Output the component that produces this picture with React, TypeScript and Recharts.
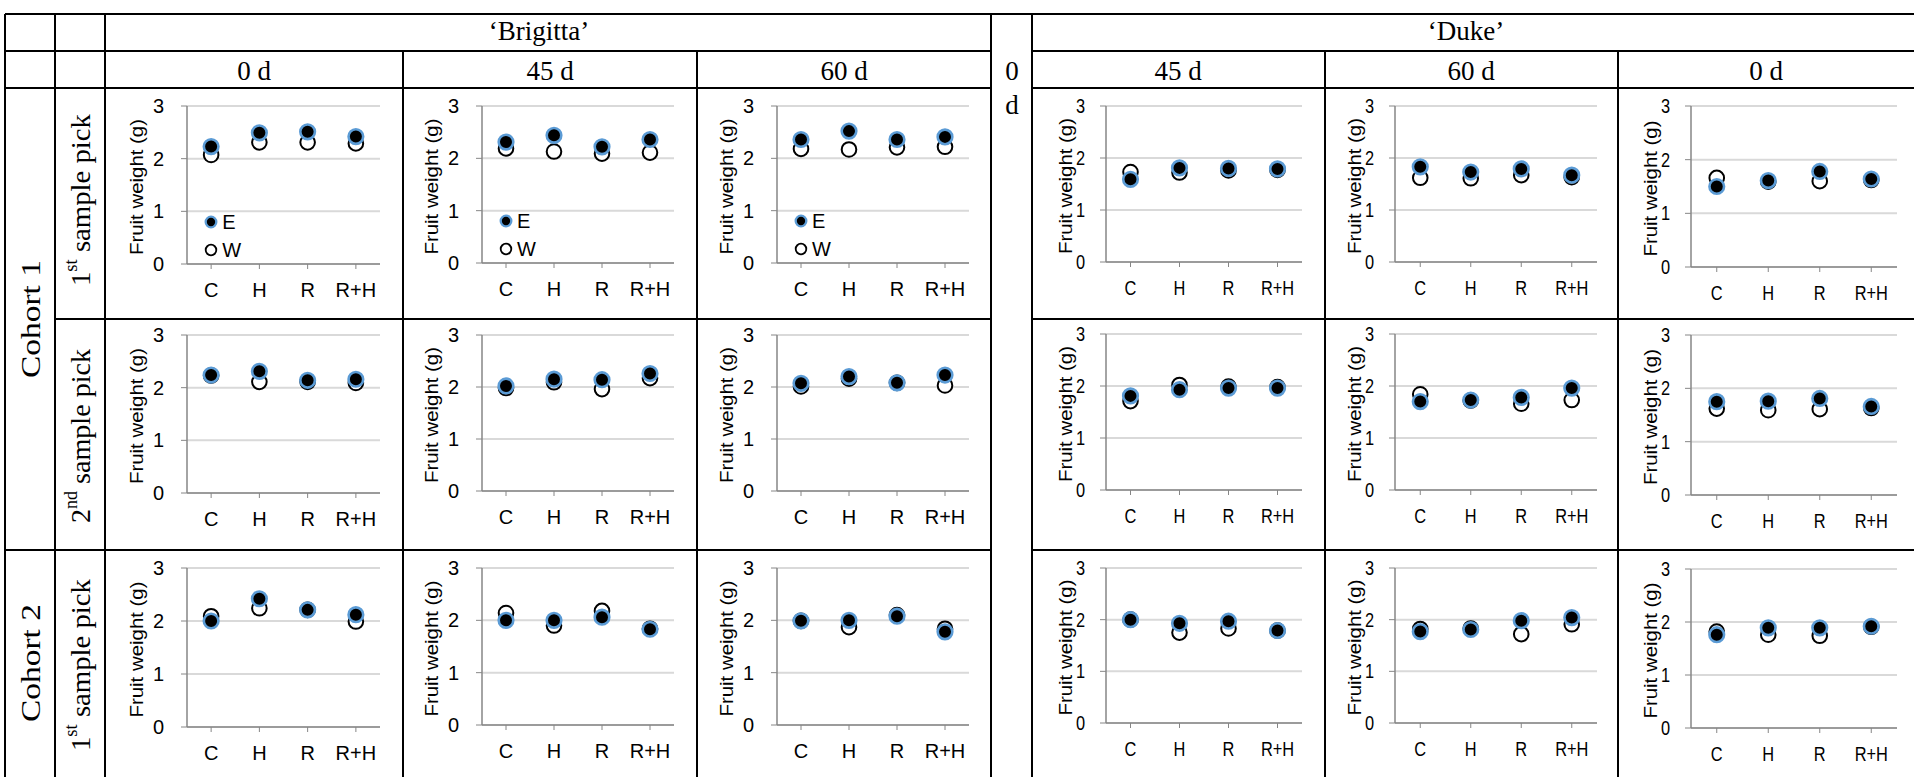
import React from "react";
import { ComposedChart, Line, XAxis, YAxis, CartesianGrid, Legend } from "recharts";

const SANS = "'Liberation Sans', Arial, sans-serif";
const SERIF = "'Liberation Serif', 'Times New Roman', serif";

const categories = ["C", "H", "R", "R+H"];
const yTicks = [0, 1, 2, 3];
const varieties = ["\u2018Brigitta\u2019", "\u2018Duke\u2019"];
const storageBrigitta = ["0 d", "45 d", "60 d"];
const storageDuke = ["45 d", "60 d", "0 d"];

// Cohort 1, 1st sample pick
const b11_0_E = [2.23, 2.49, 2.51, 2.42];
const b11_0_W = [2.07, 2.31, 2.31, 2.29];
const b11_45_E = [2.31, 2.44, 2.22, 2.36];
const b11_45_W = [2.19, 2.13, 2.09, 2.11];
const b11_60_E = [2.36, 2.52, 2.36, 2.41];
const b11_60_W = [2.18, 2.17, 2.21, 2.22];
const d11_45_E = [1.59, 1.81, 1.8, 1.79];
const d11_45_W = [1.73, 1.72, 1.76, 1.77];
const d11_60_E = [1.83, 1.73, 1.79, 1.67];
const d11_60_W = [1.62, 1.61, 1.67, 1.63];
const d11_0_E = [1.5, 1.61, 1.78, 1.64];
const d11_0_W = [1.66, 1.59, 1.6, 1.62];

// Cohort 1, 2nd sample pick
const b12_0_E = [2.24, 2.31, 2.14, 2.16];
const b12_0_W = [2.23, 2.11, 2.11, 2.09];
const b12_45_E = [2.02, 2.15, 2.14, 2.26];
const b12_45_W = [1.98, 2.09, 1.96, 2.17];
const b12_60_E = [2.07, 2.2, 2.08, 2.23];
const b12_60_W = [2.01, 2.16, 2.08, 2.03];
const d12_45_E = [1.81, 1.93, 1.96, 1.96];
const d12_45_W = [1.71, 2.02, 1.99, 1.98];
const d12_60_E = [1.7, 1.73, 1.78, 1.96];
const d12_60_W = [1.84, 1.72, 1.66, 1.73];
const d12_0_E = [1.75, 1.76, 1.81, 1.66];
const d12_0_W = [1.62, 1.59, 1.61, 1.63];

// Cohort 2, 1st sample pick
const b21_0_E = [2.0, 2.42, 2.21, 2.12];
const b21_0_W = [2.09, 2.24, 2.21, 1.99];
const b21_45_E = [2.0, 2.0, 2.06, 1.83];
const b21_45_W = [2.14, 1.9, 2.18, 1.84];
const b21_60_E = [1.99, 2.0, 2.08, 1.78];
const b21_60_W = [1.99, 1.87, 2.1, 1.84];
const d21_45_E = [2.0, 1.93, 1.97, 1.79];
const d21_45_W = [2.0, 1.75, 1.83, 1.79];
const d21_60_E = [1.77, 1.81, 1.98, 2.04];
const d21_60_W = [1.82, 1.83, 1.72, 1.91];
const d21_0_E = [1.76, 1.89, 1.89, 1.92];
const d21_0_W = [1.82, 1.76, 1.74, 1.91];

// plot placement: [axis x, right edge]
const cols = [
  [187, 380],
  [482, 674],
  [777, 969],
  [1106, 1302],
  [1395, 1597],
  [1691, 1897],
];
// [y of 3, y of 0] per row and column
const rowsY = [
  [[106, 264], [106, 263], [106, 263], [106, 262], [106, 262], [106, 267]],
  [[335, 493], [335, 491], [335, 491], [334, 490], [334, 490], [335, 495]],
  [[568, 727], [568, 725], [568, 725], [568, 723], [568, 723], [569, 728]],
];

const series = [
  [[b11_0_E, b11_0_W], [b11_45_E, b11_45_W], [b11_60_E, b11_60_W], [d11_45_E, d11_45_W], [d11_60_E, d11_60_W], [d11_0_E, d11_0_W]],
  [[b12_0_E, b12_0_W], [b12_45_E, b12_45_W], [b12_60_E, b12_60_W], [d12_45_E, d12_45_W], [d12_60_E, d12_60_W], [d12_0_E, d12_0_W]],
  [[b21_0_E, b21_0_W], [b21_45_E, b21_45_W], [b21_60_E, b21_60_W], [d21_45_E, d21_45_W], [d21_60_E, d21_60_W], [d21_0_E, d21_0_W]],
];

const FS = 20;

const LegendBox = () => (
  <div style={{ fontFamily: SANS, fontSize: FS, color: "#000", lineHeight: "28px" }}>
    <div style={{ display: "flex", alignItems: "center", height: 28 }}>
      <svg width={14} height={14}>
        <circle cx={7} cy={7} r={5.3} fill="#000" stroke="#5b9bd5" strokeWidth={2.3} />
      </svg>
      <span style={{ marginLeft: 4 }}>E</span>
    </div>
    <div style={{ display: "flex", alignItems: "center", height: 28 }}>
      <svg width={14} height={14}>
        <circle cx={7} cy={7} r={5.3} fill="#fff" stroke="#000" strokeWidth={1.8} />
      </svg>
      <span style={{ marginLeft: 4 }}>W</span>
    </div>
  </div>
);

// tick label drawn at a given centre, squeezed sideways for the Duke panels
const tickText = (x: number, y: number, value: string | number, anchor: string, sx: number) => (
  <g transform={`translate(${x} ${y}) scale(${sx} 1)`}>
    <text
      x={0}
      y={0}
      textAnchor={anchor}
      dominantBaseline="central"
      fontFamily={SANS}
      fontSize={FS}
      fill="#000"
    >
      {value}
    </text>
  </g>
);

function Panel({ row, col }: { row: number; col: number }) {
  const [axisX, right] = cols[col];
  const [y3, y0] = rowsY[row][col];
  const [E, W] = series[row][col];
  const duke = col >= 3;
  const sx = duke ? 0.82 : 1;
  const padL = 70;
  const padT = 12;
  const padR = 30;
  const xH = 46;
  const plotH = y0 - y3;
  const plotW = right - axisX;
  const band = plotW / 8;
  const data = categories.map((c, i) => ({ cat: c, E: E[i], W: W[i] }));
  const yOf = (v: number) => padT + ((3 - v) * plotH) / 3;
  const titleX = padL - (duke ? 41 : 50);
  const titleY = padT + plotH / 2 + 2;

  return (
    <div style={{ position: "absolute", left: axisX - padL, top: y3 - padT }}>
      <ComposedChart
        width={plotW + padL + padR}
        height={plotH + padT + xH}
        data={data}
        margin={{ top: padT, right: padR, left: 0, bottom: 0 }}
      >
        <CartesianGrid vertical={false} stroke="#d9d9d9" strokeWidth={2} />
        <XAxis
          dataKey="cat"
          type="category"
          interval={0}
          height={xH}
          padding={{ left: band, right: band }}
          axisLine={{ stroke: "#868686", strokeWidth: 1.5 }}
          tickLine={{ stroke: "#868686" }}
          tickSize={5}
          tickMargin={0}
          tick={(p: any) => tickText(p.x, p.y + 21, p.payload.value, "middle", sx)}
        />
        <YAxis
          type="number"
          domain={[0, 3]}
          ticks={yTicks}
          interval={0}
          width={padL}
          axisLine={{ stroke: "#868686", strokeWidth: 1.5 }}
          tickLine={{ stroke: "#868686" }}
          tickSize={6}
          tickMargin={0}
          tick={(p: any) => tickText(p.x - (duke ? 15 : 17), p.y, p.payload.value, "end", sx)}
          label={() => (
            <text
              x={titleX}
              y={titleY}
              transform={`rotate(-90 ${titleX} ${titleY})`}
              textAnchor="middle"
              dominantBaseline="central"
              fontFamily={SANS}
              fontSize={duke ? 19 : 18}
              fill="#000"
              textLength={136}
              lengthAdjust="spacingAndGlyphs"
            >
              Fruit weight (g)
            </text>
          )}
        />
        {row === 0 && !duke && (
          <Legend
            layout="horizontal"
            verticalAlign="middle"
            align="center"
            wrapperStyle={{ left: padL + band - 7, top: yOf(0.8) - 14, width: "auto" }}
            content={<LegendBox />}
          />
        )}
        <Line
          dataKey="W"
          name="W"
          stroke="none"
          isAnimationActive={false}
          activeDot={false}
          dot={{ r: 7.3, fill: "#fff", stroke: "#000", strokeWidth: 2 }}
        />
        <Line
          dataKey="E"
          name="E"
          stroke="none"
          isAnimationActive={false}
          activeDot={false}
          dot={{ r: 7.3, fill: "#000", stroke: "#5b9bd5", strokeWidth: 2.6 }}
        />
      </ComposedChart>
    </div>
  );
}

function Table() {
  const ln = { stroke: "#000", strokeWidth: 2 };
  const hLines: [number, number, number][] = [
    [14, 5, 1914],
    [51, 5, 991],
    [51, 1032, 1914],
    [88, 5, 991],
    [88, 1032, 1914],
    [319, 55, 991],
    [319, 1032, 1914],
    [550, 5, 991],
    [550, 1032, 1914],
  ];
  const vLines: [number, number, number][] = [
    [5, 14, 777],
    [55, 14, 777],
    [105, 14, 777],
    [403, 51, 777],
    [697, 51, 777],
    [991, 14, 777],
    [1032, 14, 777],
    [1325, 51, 777],
    [1618, 51, 777],
  ];
  const subX = [254, 550, 844, 1178, 1471, 1766];
  const subs = [...storageBrigitta, ...storageDuke];
  const rotated = (x: number, y: number, len: number, children: React.ReactNode, key: string) => (
    <text
      key={key}
      x={x}
      y={y}
      transform={`rotate(-90 ${x} ${y})`}
      textAnchor="middle"
      dominantBaseline="central"
      fontFamily={SERIF}
      fontSize={28}
      textLength={len}
      lengthAdjust="spacingAndGlyphs"
    >
      {children}
    </text>
  );
  return (
    <svg width={1914} height={777} style={{ position: "absolute", left: 0, top: 0 }}>
      {hLines.map(([y, a, b], i) => (
        <line key={"h" + i} x1={a} x2={b} y1={y} y2={y} {...ln} />
      ))}
      {vLines.map(([x, a, b], i) => (
        <line key={"v" + i} x1={x} x2={x} y1={a} y2={b} {...ln} />
      ))}
      <g fontFamily={SERIF} fontSize={27} textAnchor="middle" dominantBaseline="central" fill="#000">
        <text x={539} y={31}>{varieties[0]}</text>
        <text x={1466} y={31}>{varieties[1]}</text>
        {subs.map((s, i) => (
          <text key={s + i} x={subX[i]} y={71}>
            {s}
          </text>
        ))}
        <text x={1012} y={71}>0</text>
        <text x={1012} y={105}>d</text>
      </g>
      {rotated(30, 319, 118, "Cohort 1", "c1")}
      {rotated(30, 663, 118, "Cohort 2", "c2")}
      {rotated(
        80,
        200,
        172,
        <>
          1<tspan fontSize={18} dy={-9}>st</tspan>
          <tspan dy={9}> sample pick</tspan>
        </>,
        "p1"
      )}
      {rotated(
        80,
        436,
        174,
        <>
          2<tspan fontSize={18} dy={-9}>nd</tspan>
          <tspan dy={9}> sample pick</tspan>
        </>,
        "p2"
      )}
      {rotated(
        80,
        665,
        172,
        <>
          1<tspan fontSize={18} dy={-9}>st</tspan>
          <tspan dy={9}> sample pick</tspan>
        </>,
        "p3"
      )}
    </svg>
  );
}

export default function App() {
  const panels = [];
  for (let r = 0; r < 3; r++) {
    for (let c = 0; c < 6; c++) {
      panels.push(<Panel key={`${r}-${c}`} row={r} col={c} />);
    }
  }
  return (
    <div
      style={{
        position: "absolute",
        left: 0,
        top: 0,
        width: 1914,
        height: 777,
        background: "#fff",
        overflow: "hidden",
      }}
    >
      <Table />
      {panels}
    </div>
  );
}
